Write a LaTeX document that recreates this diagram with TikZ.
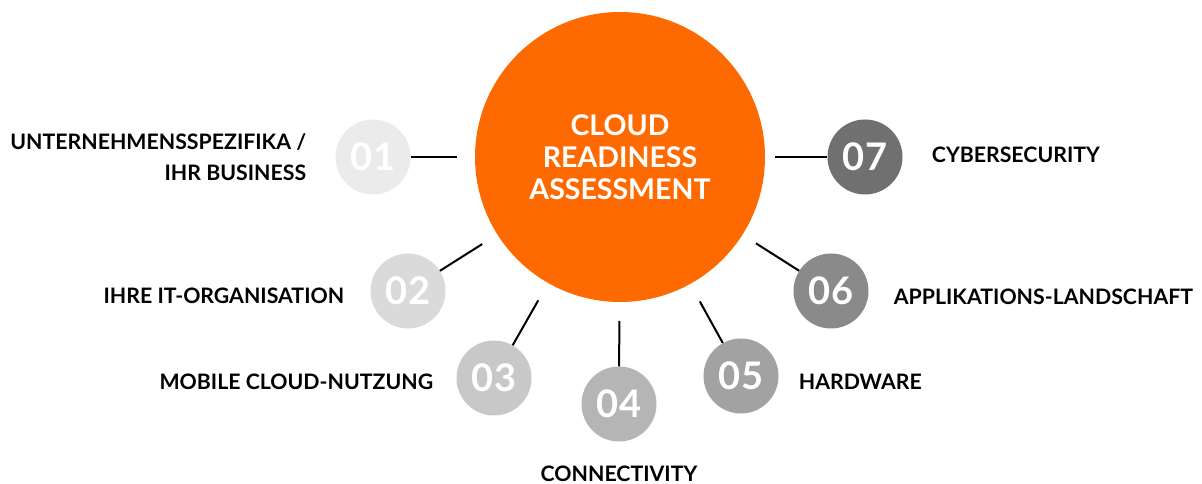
\documentclass[tikz,border=0pt]{standalone}
\usepackage{fontspec}
\setmainfont{Lato}
\usetikzlibrary{positioning,calc}
\definecolor{cloudorange}{HTML}{FF6A00}
\definecolor{grayA}{HTML}{EBEBEB}
\definecolor{grayB}{HTML}{DADADA}
\definecolor{grayC}{HTML}{C8C8C8}
\definecolor{grayD}{HTML}{B5B5B5}
\definecolor{grayE}{HTML}{A2A2A2}
\definecolor{grayF}{HTML}{8A8A8A}
\definecolor{grayG}{HTML}{707070}
\begin{document}
\begin{tikzpicture}[x=1pt, y=1pt,
    hub/.style={circle, fill=cloudorange, minimum size=290pt, inner sep=0pt, text=white, align=center,
        font=\fontsize{28.5}{32}\selectfont\bfseries},
    num/.style={circle, minimum size=75pt, inner sep=0pt, text=white, font=\fontsize{38}{38}\selectfont\bfseries},
    topic/.style={inner sep=0pt, font=\fontsize{21.3}{31}\selectfont\bfseries},
    spoke/.style={line width=2pt}]
    \useasboundingbox (0,0) rectangle (1202,484);
    \node[hub] (core) at (620,327) {CLOUD\\READINESS\\ASSESSMENT};
    % numbered circles
    \node[num, fill=grayA] (n1) at (373,327) {01};
    \node[num, fill=grayB] (n2) at (408,193) {02};
    \node[num, fill=grayC] (n3) at (494,106) {03};
    \node[num, fill=grayD] (n4) at (619,80) {04};
    \node[num, fill=grayE] (n5) at (741,108) {05};
    \node[num, fill=grayF] (n6) at (831,193) {06};
    \node[num, fill=grayG] (n7) at (865,327) {07};
    % topics
    \node[topic, align=right, left=29pt of n1] (t1) {UNTERNEHMENSSPEZIFIKA /\\IHR BUSINESS};
    \node[topic, left=26pt of n2, yshift=-5pt] (t2) {IHRE IT-ORGANISATION};
    \node[topic, left=23pt of n3, yshift=-4pt] (t3) {MOBILE CLOUD-NUTZUNG};
    \node[topic, below=24pt of n4] (t4) {CONNECTIVITY};
    \node[topic, right=20pt of n5, yshift=-6pt] (t5) {HARDWARE};
    \node[topic, right=25pt of n6, yshift=-6pt] (t6) {APPLIKATIONS-LANDSCHAFT};
    \node[topic, right=29pt of n7, yshift=2pt] (t7) {CYBERSECURITY};
    % spokes
    \coordinate (s1) at ($(core.center)!163pt!(n1)$);
    \coordinate (s2) at ($(core.center)!163pt!(n2)$);
    \coordinate (s3) at ($(core.center)!165pt!(n3)$);
    \coordinate (s4) at ($(core.center)!164pt!(n4)$);
    \coordinate (s5) at ($(core.center)!165pt!(n5)$);
    \coordinate (s6) at ($(core.center)!161pt!(n6)$);
    \coordinate (s7) at ($(core.center)!155pt!(n7)$);
    \draw[spoke] (s1) -- (n1);
    \draw[spoke] (s2) -- (n2);
    \draw[spoke] (s3) -- (n3);
    \draw[spoke] (s4) -- (n4);
    \draw[spoke] (s5) -- (n5);
    \draw[spoke] (s6) -- (n6);
    \draw[spoke] (s7) -- (n7);
\end{tikzpicture}
\end{document}
